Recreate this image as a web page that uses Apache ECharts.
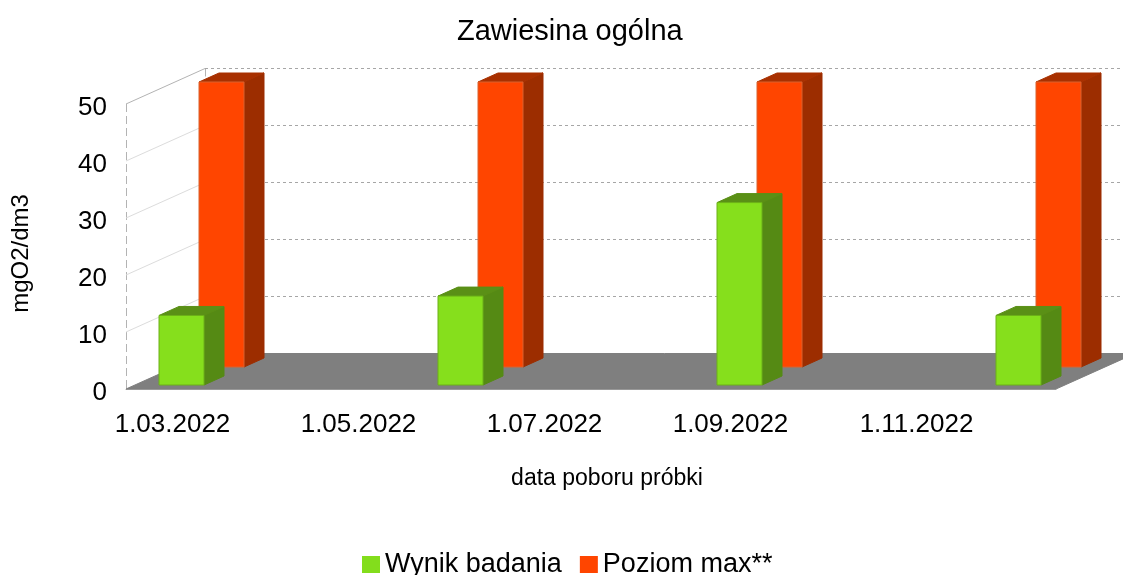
<!DOCTYPE html>
<html><head><meta charset="utf-8">
<style>html,body{margin:0;padding:0;background:#fff}#c{width:1123px;height:575px}</style>
<script src="https://cdn.jsdelivr.net/npm/echarts@6/dist/echarts.min.js"></script>
</head><body><div id="c"></div>
<script>
const months = ['1.03.2022','1.04.2022','1.05.2022','1.06.2022','1.07.2022','1.08.2022','1.09.2022','1.10.2022','1.11.2022','1.12.2022'];
const wynik = [12.2,null,null,15.6,null,null,32,null,null,12.2];
const poziom = [50,null,null,50,null,null,50,null,null,50];
const yTicks = [0,10,20,30,40,50];
const FONT = '"Liberation Sans", Arial, sans-serif';
const DX = 79, DY = 35.5;            // chart depth
const BAR_HALF = 22.5, BAR_DX = 20, BAR_DY = 9;

function poly(points, fill, stroke){
  return {type:'polygon', shape:{points}, style:{fill, stroke: stroke || fill, lineWidth:1}};
}
function barRenderer(offX, offY, front, side, top, edge){
  return function(params, api){
    const t = api.coord([api.value(0), api.value(1)]);
    const b = api.coord([api.value(0), 0]);
    const l = t[0]-BAR_HALF+offX, r = t[0]+BAR_HALF+offX;
    const yt = t[1]-offY, yb = b[1]-offY;
    return {type:'group', children:[
      poly([[r,yt],[r+BAR_DX,yt-BAR_DY],[r+BAR_DX,yb-BAR_DY],[r,yb]], side),
      poly([[l,yt],[l+BAR_DX,yt-BAR_DY],[r+BAR_DX,yt-BAR_DY],[r,yt]], top),
      poly([[l,yt],[r,yt],[r,yb],[l,yb]], front, edge)
    ]};
  };
}
function wallRenderer(params, api){
  const cs = params.coordSys;
  const v = api.value(0);
  const y = api.coord([0, v])[1];
  const x0 = cs.x, x1 = cs.x+cs.width;
  const kids = [];
  if (v === 0) {
    kids.push(poly([[x0,y],[x0+DX,y-DY],[x1+DX,y-DY],[x1,y]], '#7f7f7f'));
    kids.push({type:'line',shape:{x1:x0+0.5,y1:cs.y,x2:x0+0.5,y2:y},style:{stroke:'#b3b3b3',lineWidth:1,lineDash:[8,4]}});
    kids.push({type:'line',shape:{x1:x0+DX+0.5,y1:cs.y-DY,x2:x0+DX+0.5,y2:y-DY},style:{stroke:'#b3b3b3',lineWidth:1,lineDash:[8,4]}});
  } else {
    const top = v === yTicks[yTicks.length-1];
    kids.push({type:'line',shape:{x1:x0,y1:y,x2:x0+DX,y2:y-DY},style:{stroke: top?'#b3b3b3':'#dcdcdc',lineWidth:1}});
    kids.push({type:'line',shape:{x1:x0+DX,y1:y-DY,x2:x1+DX,y2:y-DY},style:{stroke:'#a6a6a6',lineWidth:1,lineDash:[3,3]}});
  }
  return {type:'group',children:kids};
}
const toData = vals => vals.map((v,i)=>[i,v]).filter(d=>d[1]!==null);
const chart = echarts.init(document.getElementById('c'),null,{renderer:'canvas'});
chart.setOption({
  animation:false,
  backgroundColor:'#fff',
  title:{text:'Zawiesina ogólna',left:457,top:17,textStyle:{fontFamily:FONT,fontSize:29,fontWeight:'normal',color:'#000'},padding:0},
  legend:{data:['Wynik badania','Poziom max**'],left:362,top:551,itemWidth:18,itemHeight:17,itemGap:18,icon:'rect',
    textStyle:{fontFamily:FONT,fontSize:27,color:'#000'},padding:0},
  grid:{left:126,right:67,top:104,bottom:186},
  xAxis:{type:'category',data:months,name:'data poboru próbki',nameLocation:'middle',nameGap:78,
    nameTextStyle:{fontFamily:FONT,fontSize:23,color:'#000',padding:[0,0,0,32]},
    axisLine:{show:true,lineStyle:{color:'#b3b3b3'}},axisTick:{show:false},
    axisLabel:{interval:1,margin:23,fontFamily:FONT,fontSize:26,color:'#000'}},
  yAxis:{type:'value',min:0,max:50,interval:10,name:'mgO2/dm3',nameLocation:'middle',nameGap:93,nameRotate:90,
    nameTextStyle:{fontFamily:FONT,fontSize:24,color:'#000',padding:[0,14,0,0]},
    axisLine:{show:false},axisTick:{show:false},splitLine:{show:false},
    axisLabel:{margin:19,fontFamily:FONT,fontSize:26,color:'#000',verticalAlign:'top',lineHeight:7}},
  series:[
    {type:'custom',name:'walls',silent:true,clip:false,z:1,renderItem:wallRenderer,data:yTicks.map(v=>[v]),encode:{y:0}},
    {type:'custom',name:'Poziom max**',clip:false,z:2,itemStyle:{color:'#FF4500'},
      renderItem:barRenderer(49,22,'#FF4500','#9C2D00','#A83000','#D9622F'),data:toData(poziom),encode:{x:0,y:1}},
    {type:'custom',name:'Wynik badania',clip:false,z:3,itemStyle:{color:'#83DD1C'},
      renderItem:barRenderer(9,4,'#86DF1C','#558A14','#5A9016','#6CB018'),data:toData(wynik),encode:{x:0,y:1}}
  ]
});
</script></body></html>
